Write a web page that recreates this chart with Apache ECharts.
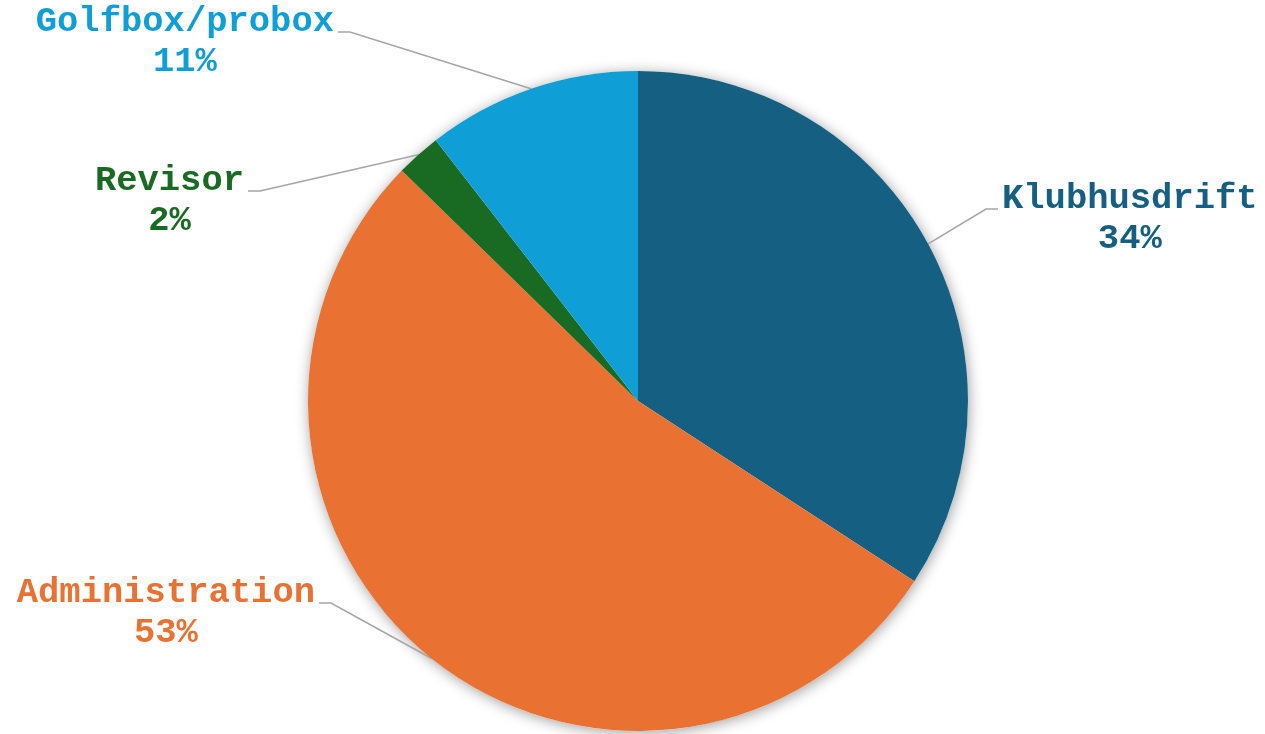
<!DOCTYPE html>
<html>
<head>
<meta charset="utf-8">
<script src="https://cdn.jsdelivr.net/npm/echarts@6/dist/echarts.min.js"></script>
<style>
  html, body { margin: 0; padding: 0; background: #ffffff; }
  #chart { width: 1265px; height: 734px; }
</style>
</head>
<body>
<div id="chart"></div>
<script>
// ---- data ----
const categories = ['Klubhusdrift', 'Administration', 'Revisor', 'Golfbox/probox'];
const values = [34.2, 53.1, 2.2, 10.5];

// ---- styles / layout ----
const colors = ['#156082', '#E97132', '#196B24', '#0F9ED5'];
const labelAnchors = [
  { x: 998, y: 209, side: 'left' },
  { x: 319, y: 603, side: 'right' },
  { x: 248, y: 191, side: 'right' },
  { x: 338, y: 32, side: 'right' }
];
const pieCenter = [638, 401];
const pieRadius = 330;
const FONT = "'Liberation Mono', 'Courier New', monospace";
const FONT_SIZE = 35.5;
const LINE_H = 40;
const ELBOW = 12;
const GAP = 4;
const BASELINE_OFF = 29.5;

const chart = echarts.init(document.getElementById('chart'), null, { renderer: 'canvas' });

const pieData = categories.map((name, i) => ({
  name: name,
  value: values[i],
  itemStyle: { color: colors[i] },
  label: { color: colors[i] }
}));

chart.setOption({
  backgroundColor: '#ffffff',
  animation: false,
  series: [
    {
      type: 'pie',
      silent: true,
      z: 1,
      center: pieCenter,
      radius: pieRadius,
      data: [{ value: 1, name: '' }],
      label: { show: false },
      labelLine: { show: false },
      itemStyle: {
        color: '#ffffff',
        shadowBlur: 14,
        shadowColor: 'rgba(0,0,0,0.38)',
        shadowOffsetX: 1,
        shadowOffsetY: 2
      },
      emphasis: { disabled: true }
    },
    {
      type: 'pie',
      z: 2,
      center: pieCenter,
      radius: pieRadius,
      startAngle: 90,
      clockwise: true,
      percentPrecision: 0,
      avoidLabelOverlap: false,
      data: pieData,
      itemStyle: { borderWidth: 0 },
      emphasis: { disabled: true },
      label: {
        show: true,
        position: 'outside',
        formatter: '{n|{b}}\n{p|{d}%}',
        rich: {
          n: { fontFamily: FONT, fontWeight: 'bold', fontSize: FONT_SIZE, lineHeight: LINE_H, align: 'center' },
          p: { fontFamily: FONT, fontWeight: 'bold', fontSize: FONT_SIZE, lineHeight: LINE_H, align: 'center' }
        }
      },
      labelLine: {
        show: true,
        smooth: false,
        length: 20,
        length2: 12,
        lineStyle: { color: '#A6A6A6', width: 1.6 }
      },
      labelLayout: function (params) {
        const a = labelAnchors[params.dataIndex];
        const dir = a.side === 'left' ? 1 : -1;
        const start = params.labelLinePoints && params.labelLinePoints[0];
        return {
          x: a.x + dir * GAP,
          y: a.y - BASELINE_OFF,
          align: a.side,
          verticalAlign: 'top',
          labelLinePoints: [start, [a.x - dir * ELBOW, a.y], [a.x, a.y]]
        };
      }
    }
  ]
});
</script>
</body>
</html>
